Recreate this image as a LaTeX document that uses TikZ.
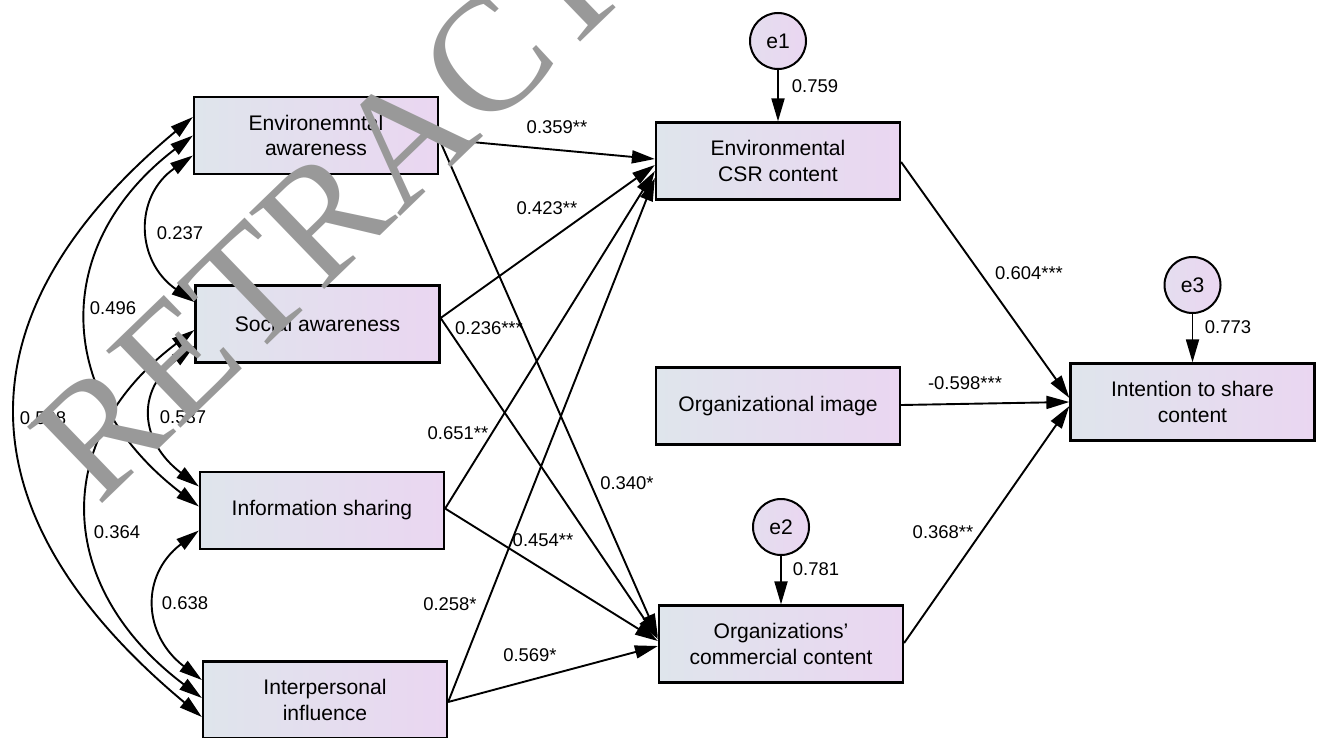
\documentclass[tikz,border=0pt]{standalone}
\usepackage{fontspec}
\setmainfont{Liberation Sans}
\newfontfamily\stampfont{Liberation Serif}
\definecolor{boxleft}{HTML}{DFE5EC}
\definecolor{boxright}{HTML}{EAD6F1}
\definecolor{stampgray}{HTML}{999999}
\usetikzlibrary{arrows.meta,calc,positioning}

\begin{document}
\begin{tikzpicture}[x=0.2mm,y=-0.2mm,
    var/.style={draw=black,line width=0.45mm,left color=boxleft,right color=boxright,minimum width=48.8mm,minimum height=15.4mm,inner sep=0pt,align=center,font=\fontsize{12}{14.7}\selectfont},
    err/.style={circle,draw=black,line width=0.4mm,left color=boxleft!50!boxright,right color=boxright,minimum size=11.2mm,inner sep=0pt,font=\fontsize{12}{14}\selectfont},
    coef/.style={inner sep=0pt,font=\fontsize{10.5}{12}\selectfont},
    arr/.style={-{Triangle[length=4.6mm,width=2.6mm]},line width=0.38mm},
    cov/.style={{Triangle[length=4.6mm,width=2.6mm]}-{Triangle[length=4.6mm,width=2.6mm]},line width=0.38mm},
    stamp/.style={rotate=44,inner sep=0pt,text=stampgray,font=\fontsize{93}{93}\stampfont}]
    \clip (0,0) rectangle (1317,737);
    \node[var] (EA) at (316,135.5) {Environemntal\\awareness};
    \node[var] (SA) at (317.5,324) {Social awareness};
    \node[var] (IS) at (322,510.5) {Information sharing};
    \node[var] (II) at (325,700) {Interpersonal\\influence};
    \node[var] (ECSR) at (778,161) {Environmental\\CSR content};
    \node[var] (OI) at (778,406) {Organizational image};
    \node[var] (OCC) at (781,644) {Organizations'\\commercial content};
    \node[var] (IntS) at (1192.5,402) {Intention to share\\content};
    \node[err] (e1) at (778,41) {e1};
    \node[err] (e2) at (781,527) {e2};
    \node[err] (e3) at (1192.5,285) {e3};
    \draw[arr] (e1) -- (ECSR); \draw[arr] (e2) -- (OCC); \draw[arr] (e3) -- (IntS);
    \draw[arr] ($(EA.east)+(0,3.5)$) -- ($(ECSR.west)+(0,-2)$);
    \draw[arr] ($(SA.east)+(0,-6)$) -- ($(ECSR.west)+(0,4)$);
    \draw[arr] ($(IS.east)+(0,-2)$) -- ($(ECSR.west)+(0,10)$);
    \draw[arr] ($(II.east)+(0,2)$) -- ($(ECSR.west)+(0,17)$);
    \draw[arr] ($(EA.east)+(0,3.5)$) -- ($(OCC.west)+(0,-7)$);
    \draw[arr] ($(SA.east)+(0,-6)$) -- ($(OCC.west)+(0,-5)$);
    \draw[arr] ($(IS.east)+(0,-2)$) -- ($(OCC.west)+(0,-3)$);
    \draw[arr] ($(II.east)+(0,2)$) -- ($(OCC.west)+(0,2)$);
    \draw[arr] ($(ECSR.east)+(0,1)$) -- ($(IntS.west)+(0,-4)$);
    \draw[arr] ($(OI.east)+(0,-1)$) -- (IntS.west);
    \draw[arr] ($(OCC.east)+(0,-1)$) -- ($(IntS.west)+(0,4)$);
    \draw[cov] ($(EA.west)+(0,20)$) .. controls +(-59,41) and +(-59,-41) .. ($(SA.west)+(0,-22)$);
    \draw[cov] ($(EA.west)+(0,0)$) .. controls +(-144,110) and +(-144,-110) .. ($(IS.west)+(0,-4)$);
    \draw[cov] ($(EA.west)+(0,-18.5)$) .. controls +(-240,200) and +(-240,-200) .. ($(II.west)+(0,17)$);
    \draw[cov] ($(SA.west)+(0,22)$) .. controls +(-59,45) and +(-59,-45) .. ($(IS.west)+(0,-24)$);
    \draw[cov] ($(SA.west)+(0,6)$) .. controls +(-146,110) and +(-146,-110) .. ($(II.west)+(0,-2)$);
    \draw[cov] ($(IS.west)+(0,20)$) .. controls +(-59,45) and +(-59,-45) .. ($(II.west)+(0,-20)$);
    \node[coef] (c759) at (815,86) {0.759};
    \node[coef] (c781) at (816,569) {0.781};
    \node[coef] (c773) at (1228,327) {0.773};
    \node[coef] (c359) at (557,127) {0.359**};
    \node[coef] (c423) at (547,208) {0.423**};
    \node[coef] (c236) at (489,328) {0.236***};
    \node[coef] (c651) at (458,433) {0.651**};
    \node[coef] (c340) at (627,483) {0.340*};
    \node[coef] (c454) at (543,540) {0.454**};
    \node[coef] (c258) at (450,604) {0.258*};
    \node[coef] (c569) at (530,655) {0.569*};
    \node[coef] (c604) at (1029,273) {0.604***};
    \node[coef] (c598) at (965,383) {-0.598***};
    \node[coef] (c368) at (943,532) {0.368**};
    \node[coef] (c237) at (180,233) {0.237};
    \node[coef] (c496) at (113,308) {0.496};
    \node[coef] (c528) at (43,418) {0.528};
    \node[coef] (c587) at (183,417) {0.587};
    \node[coef] (c364) at (117,532) {0.364};
    \node[coef] (c638) at (185,603) {0.638};
    \node[stamp] (wm) at (408,135) {RETRACTED};
\end{tikzpicture}
\end{document}
